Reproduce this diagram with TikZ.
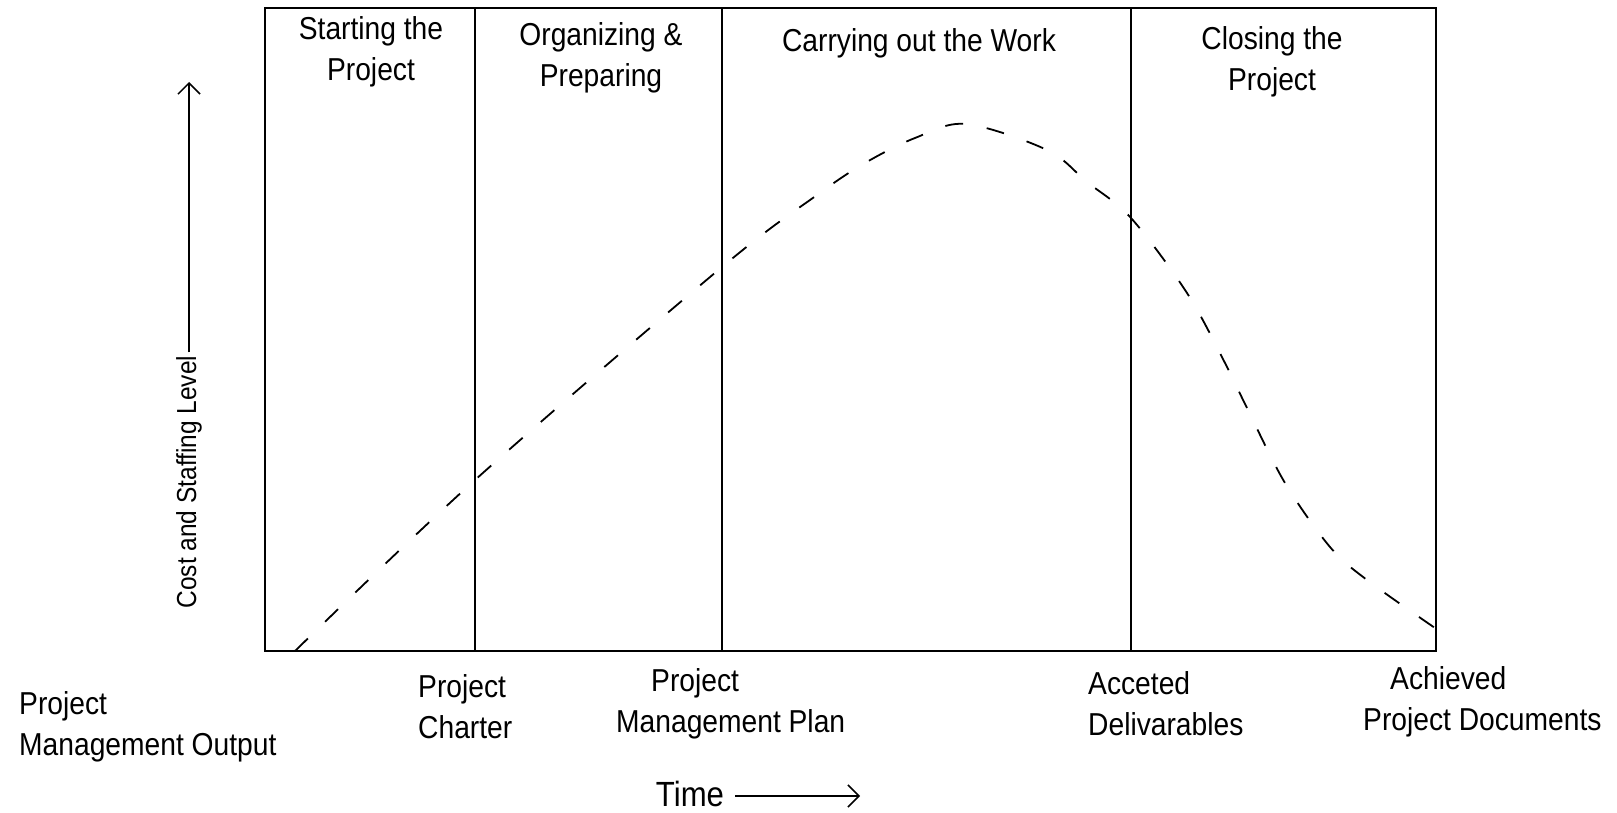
\documentclass[tikz,border=0pt]{standalone}
\usepackage{fontspec}
\setmainfont{Liberation Sans}[FakeStretch=0.89]
\usetikzlibrary{arrows.meta}
\begin{document}
\begin{tikzpicture}[x=1pt,y=-1pt,
  lbl/.style={inner sep=0pt, font=\fontsize{31.7}{41}\selectfont, align=center},
  lbll/.style={inner sep=0pt, font=\fontsize{31.7}{41}\selectfont, align=left, anchor=west},
  frame/.style={line width=2pt},
  divider/.style={line width=1.8pt},
  curve/.style={line width=1.8pt, dash pattern=on 18pt off 24pt},
  axisarrow/.style={line width=1.5pt, -{Straight Barb[length=11pt,width=22pt,line width=1.5pt]}}]
\useasboundingbox[fill=white] (0,0) rectangle (1617,813);
% frame
\coordinate (tl) at (265,8);
\coordinate (br) at (1436,651);
\draw[frame] (tl) rectangle (br);
% dividers
\coordinate (d1t) at (475,8);   \coordinate (d1b) at (475,651);
\coordinate (d2t) at (722,8);   \coordinate (d2b) at (722,651);
\coordinate (d3t) at (1131,8);  \coordinate (d3b) at (1131,651);
\draw[divider] (d1t) -- (d1b);
\draw[divider] (d2t) -- (d2b);
\draw[divider] (d3t) -- (d3b);
% phase headers
\node[lbl] (p1) at (371,52) {Starting the\\Project};
\node[lbl] (p2) at (601,58) {Organizing \&\\Preparing};
\node[lbl] (p3) at (919,43) {Carrying out the Work};
\node[lbl] (p4) at (1272,62) {Closing the\\Project};
% curve
\draw[curve] plot[smooth, tension=0.55] coordinates {
  (295,651) (475,480) (722,267) (817,195) (865,163) (915,138) (966,124)
  (1047,150) (1087,182) (1131,218) (1187,293) (1225,363) (1247,408)
  (1285,483) (1330,547) (1367,580) (1435,628)};
% y axis label
\node[rotate=90, inner sep=3pt, font=\fontsize{27.5}{30}\selectfont] (ylab) at (189,482) {Cost and Staffing Level};
\coordinate (ytip) at (189,82);
\draw[axisarrow] (ylab.east) -- (ytip);
% outputs
\node[lbll] (o0) at (19,727) {Project\\Management Output};
\node[lbll] (o1) at (418,707) {Project\\Charter};
\node[lbll] (o2) at (616,704) {\hspace*{35pt}Project\\Management Plan};
\node[lbll] (o3) at (1088,704) {Acceted\\Delivarables};
\node[lbll] (o4) at (1363,702) {\hspace*{27pt}Achieved\\Project Documents};
% time axis
\node[inner sep=0pt, font=\fontsize{35}{40}\selectfont] (time) at (690,794) {Time};
\coordinate (ttip) at (860,796);
\draw[axisarrow] ([xshift=11pt]time.east |- ttip) -- (ttip);
\end{tikzpicture}
\end{document}
